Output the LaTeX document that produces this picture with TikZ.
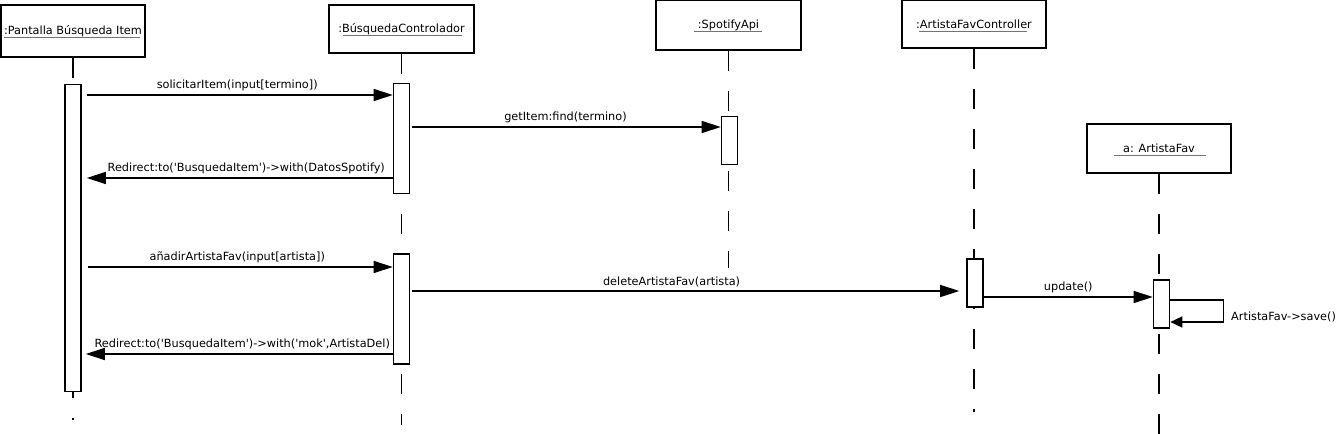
\documentclass[tikz,border=0pt]{standalone}
\usepackage{fontspec}
\newfontfamily\umlfont{DejaVu Sans}
\usepackage{tikz}
\usetikzlibrary{arrows.meta}
\usetikzlibrary{positioning}

\begin{document}
\begin{tikzpicture}[x=1bp,y=-1bp,every node/.style={font=\umlfont\fontsize{11.3bp}{13bp}\selectfont},
obj/.style={draw,line width=1.6bp,minimum width=144bp,minimum height=48bp,inner sep=0pt},
bar/.style={draw,fill=white,line width=1.6bp,minimum width=16bp,minimum height=48bp,inner sep=0pt},
life/.style={line width=1.6bp,dash pattern=on 20bp off 20bp},
msg/.style={line width=1.6bp,-{Triangle[length=19bp,width=12bp]}},
uline/.style={draw=black!55,line width=0.8bp}]

\useasboundingbox (0,0) rectangle (1338,434);

\node[obj,minimum height=52bp] (pant) at (73,31) {:Pantalla Búsqueda Item};
\node[obj,minimum width=145bp] (busq) at (401.5,29) {:BúsquedaControlador};
\node[obj,minimum width=145bp,minimum height=50bp] (spot) at (728.5,25) {:SpotifyApi};
\node[obj] (afc) at (974,24) {:ArtistaFavController};
\node[obj,minimum height=49bp] (af) at (1159,148.5) {a: ArtistaFav};

\draw[uline] ([xshift=-69bp,yshift=-3bp]pant.base) -- ([xshift=67bp,yshift=-3bp]pant.base);
\draw[uline] ([xshift=-58.5bp,yshift=-3bp]busq.base) -- ([xshift=60.5bp,yshift=-3bp]busq.base);
\draw[uline] ([xshift=-34.5bp,yshift=-3bp]spot.base) -- ([xshift=33.5bp,yshift=-3bp]spot.base);
\draw[uline] ([xshift=-55bp,yshift=-3bp]afc.base) -- ([xshift=53bp,yshift=-3bp]afc.base);
\draw[uline] ([xshift=-45bp,yshift=-3bp]af.base) -- ([xshift=47bp,yshift=-3bp]af.base);

\draw[life] (pant.south) -- (pant.south |- 0,420);
\draw[life] (busq.south) -- (busq.south |- 0,425);
\draw[life] (spot.south) -- (spot.south |- 0,268);
\draw[life] (afc.south) -- (afc.south |- 0,412);
\draw[life] (af.south) -- (af.south |- 0,434);

\node[bar,minimum height=307bp,below=26bp of pant] (pant bar) {};
\node[bar,minimum height=110bp,below=29bp of busq] (busq bar1) {};
\node[bar,minimum height=110bp] (busq bar2) at (401.5,309) {};
\node[bar,xshift=1bp,below=65bp of spot] (spot bar) {};
\node[bar] (afc bar) at (975,283) {};
\node[bar] (af bar) at (1161.5,304) {};

\draw[msg,shorten <=5bp] (pant bar.east |- 0,95) -- (busq bar1.west |- 0,95) node[midway,above] {solicitarItem(input[termino])};
\draw[msg,shorten <=2bp] (busq bar1.east |- 0,127) -- (spot bar.west |- 0,127) node[midway,above] {getItem:find(termino)};
\draw[msg,shorten >=5bp] (busq bar1.west |- 0,178) -- (pant bar.east |- 0,178) node[midway,above,xshift=9bp] {Redirect:to('BusquedaItem')->with(DatosSpotify)};

\draw[msg,shorten <=6bp] (pant bar.east |- 0,267) -- (busq bar2.west |- 0,267) node[midway,above] {añadirArtistaFav(input[artista])};
\draw[msg,shorten <=2bp,shorten >=7bp] (busq bar2.east |- 0,291) -- (afc bar.west |- 0,291) node[pos=0.47,above] {deleteArtistaFav(artista)};
\draw[msg,shorten >=4bp] (busq bar2.west |- 0,354) -- (pant bar.east |- 0,354) node[midway,above,xshift=5bp] {Redirect:to('BusquedaItem')->with('mok',ArtistaDel)};

\draw[msg] (afc bar.east |- 0,297) -- (af bar.west |- 0,297) node[midway,above] {update()};
\draw[line width=1.6bp,-{Triangle[length=12bp,width=11bp]}] (af bar.east |- 0,300) -- ++(53,0) -- ++(0,22) -- (af bar.east |- 0,322);
\node[anchor=base west,inner sep=0pt] (save) at (1231,321) {ArtistaFav->save()};

\end{tikzpicture}
\end{document}
